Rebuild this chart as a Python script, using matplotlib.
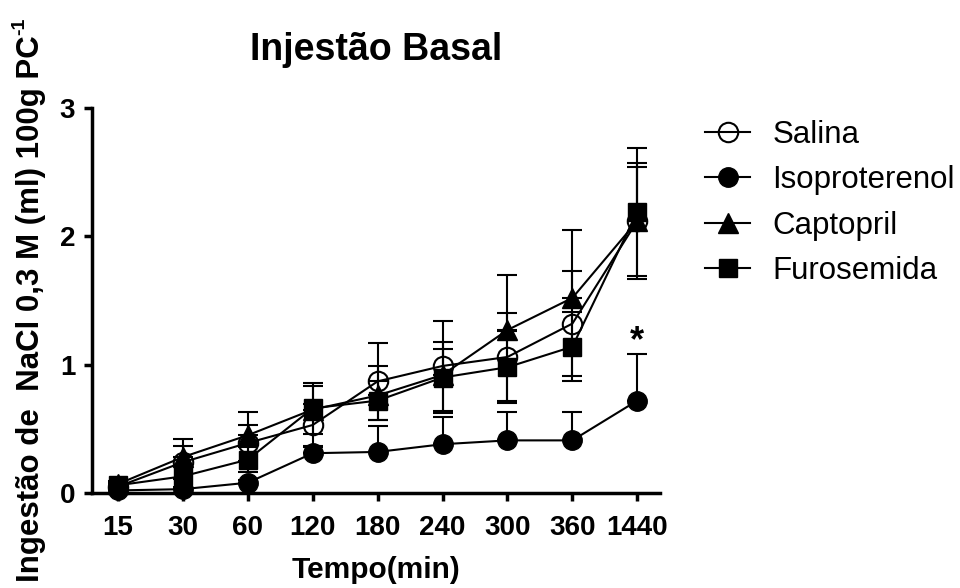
import matplotlib
matplotlib.use("Agg")
import matplotlib.pyplot as plt
import numpy as np

plt.rcParams['font.family'] = ['Liberation Sans', 'DejaVu Sans']

categories = ["15", "30", "60", "120", "180", "240", "300", "360", "1440"]

salina = [0.05, 0.24, 0.39, 0.53, 0.87, 0.99, 1.06, 1.32, 2.12]
salina_err = [0.02, 0.13, 0.14, 0.16, 0.30, 0.35, 0.34, 0.41, 0.45]

isoproterenol = [0.02, 0.03, 0.08, 0.31, 0.32, 0.38, 0.41, 0.41, 0.72]
isoproterenol_err_up = [0.01, 0.01, 0.02, 0.05, 0.20, 0.21, 0.22, 0.22, 0.36]

captopril = [0.07, 0.28, 0.45, 0.65, 0.76, 0.92, 1.27, 1.52, 2.12]
captopril_err_up = [0.02, 0.14, 0.18, 0.18, 0.23, 0.20, 0.43, 0.53, 0.42]

furosemida = [0.06, 0.13, 0.26, 0.66, 0.72, 0.90, 0.98, 1.14, 2.19]
furosemida_err = [0.02, 0.08, 0.10, 0.20, 0.15, 0.28, 0.28, 0.27, 0.50]

fig = plt.figure(figsize=(9.6, 5.88), dpi=100)
ax = fig.add_axes([92/960, 1 - 493/588, (660-92)/960, (493-108)/588])

x = np.arange(len(categories))
zeros = [0]*len(categories)

series = [
    ("Salina", salina, [salina_err, salina_err], dict(marker='o', mfc='none', mec='black', mew=1.5, ms=14)),
    ("Isoproterenol", isoproterenol, [zeros, isoproterenol_err_up], dict(marker='o', mfc='black', mec='black', ms=14)),
    ("Captopril", captopril, [zeros, captopril_err_up], dict(marker='^', mfc='black', mec='black', ms=14)),
    ("Furosemida", furosemida, [furosemida_err, furosemida_err], dict(marker='s', mfc='black', mec='black', ms=13.5)),
]

handles = []
for i, (name, y, err, mk) in enumerate(series):
    ax.errorbar(x, y, yerr=err, fmt='none', ecolor='black', elinewidth=1.5,
                capsize=7.5, capthick=1.5, clip_on=False, zorder=3 + i)
    h, = ax.plot(x, y, color='black', lw=1.5, clip_on=False, zorder=3 + i, label=name, **mk)
    handles.append(h)

ax.text(x[-1], isoproterenol[-1] + isoproterenol_err_up[-1] - 0.04, "*", ha='center', va='bottom',
        fontsize=26, fontweight='bold')

ax.set_xlim(-0.4, 8.35)
ax.set_ylim(0, 3)
ax.set_xticks(x)
ax.set_xticklabels(categories)
ax.set_yticks([0, 1, 2, 3])
for s in ['top', 'right']:
    ax.spines[s].set_visible(False)
for s in ['left', 'bottom']:
    ax.spines[s].set_linewidth(2.5)
ax.tick_params(axis='both', direction='out', length=6, width=2.5, labelsize=20, pad=6)
ax.tick_params(axis='x', pad=10)
for lab in ax.get_xticklabels() + ax.get_yticklabels():
    lab.set_fontweight('bold')

ax.set_xlabel("Tempo(min)", fontsize=21.5, fontweight='bold', labelpad=11)
ylab = fig.text(31/960, 1 - 309/588, "Ingestão de  NaCl 0,3 M (ml) 100g PC",
                rotation=90, ha='center', va='center', fontsize=22.5, fontweight='bold')
fig.text(376/960, 1 - 50/588, "Injestão Basal", ha='center', va='center', fontsize=27, fontweight='bold')

leg = ax.legend(handles=handles, loc='upper left', bbox_to_anchor=(705/960, 1 - 120/588),
                bbox_transform=fig.transFigure, frameon=False, fontsize=22.5,
                handlelength=1.45, handletextpad=0.7, labelspacing=0.49,
                borderpad=0, borderaxespad=0)

fig.canvas.draw()
bb = ylab.get_window_extent(fig.canvas.get_renderer())
fig.text((bb.x0 + 4) / fig.bbox.width, (bb.y1 + 1) / fig.bbox.height, "-1",
         rotation=90, ha='center', va='bottom', fontsize=14, fontweight='bold')

fig.savefig("out.png", dpi=100)
